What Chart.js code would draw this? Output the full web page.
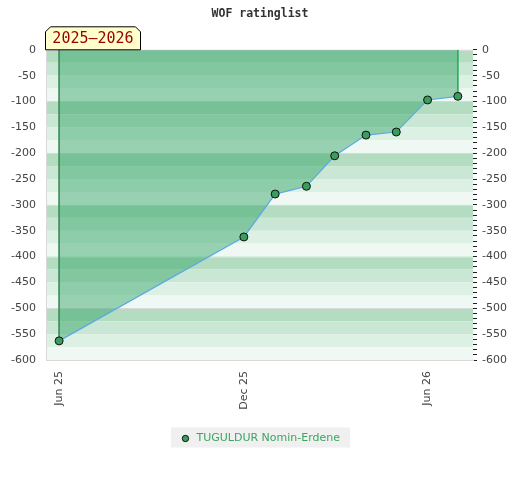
<!DOCTYPE html>
<html>
<head>
<meta charset="utf-8">
<script src="https://cdn.jsdelivr.net/npm/chart.js@4"></script>
<style>
  body { margin: 0; background: #fff; }
  #wrap { width: 520px; height: 480px; }
</style>
</head>
<body>
<div id="wrap"><canvas id="ratingChart" width="520" height="480"></canvas></div>
<script>
// Rating list dates and ratings
const ratingDates = ['2025-06-01', '2025-12-01', '2026-01-01', '2026-02-01', '2026-03-01', '2026-04-01', '2026-05-01', '2026-06-01', '2026-07-01'];
const ratingValues = [-563, -362, -279, -264, -205, -165, -159, -97, -90];
const tickDates = ['2025-06-01', '2025-12-01', '2026-06-01'];
const tickLabels = ['Jun 25', 'Dec 25', 'Jun 26'];
const axisRange = ['2025-05-19', '2026-07-16'];
const playerName = 'TUGULDUR Nomin-Erdene';
const seasonLabel = '2025\u20132026';

// days since the first list, so a linear scale can stand in for a time axis
const day0 = Date.parse(ratingDates[0]);
const toDay = d => (Date.parse(d) - day0) / 86400000;

const points = ratingDates.map((d, i) => ({ x: toDay(d), y: ratingValues[i] }));
const first = points[0];
const last = points[points.length - 1];

const bandColors = ['#b3dcc1', '#c9e7d4', '#ddf0e4', '#eff8f2'];

// striped background behind the plot
const bandsPlugin = {
    id: 'bands',
    beforeDatasetsDraw(chart) {
        const { ctx, chartArea, scales } = chart;
        const y = scales.y;
        ctx.save();
        let i = 0;
        for (let v = y.max; v > y.min; v -= 25) {
            const top = y.getPixelForValue(v);
            const bottom = y.getPixelForValue(v - 25);
            ctx.fillStyle = bandColors[i % 4];
            ctx.fillRect(chartArea.left, top, chartArea.right - chartArea.left, bottom - top);
            i++;
        }
        // faint lines every 100
        ctx.strokeStyle = '#d9d9d9';
        ctx.lineWidth = 1;
        for (let v = y.max; v >= y.min; v -= 100) {
            const py = Math.round(y.getPixelForValue(v)) + 0.5;
            ctx.beginPath();
            ctx.moveTo(chartArea.left, py);
            ctx.lineTo(chartArea.right, py);
            ctx.stroke();
        }
        ctx.beginPath();
        ctx.moveTo(chartArea.left + 0.5, chartArea.top);
        ctx.lineTo(chartArea.left + 0.5, chartArea.bottom);
        ctx.stroke();
        ctx.restore();
    }
};

// grey box behind the legend item
const legendBoxPlugin = {
    id: 'legendBox',
    afterDraw(chart) {
        const legend = chart.legend;
        if (!legend || !legend.legendHitBoxes.length) return;
        const hb = legend.legendHitBoxes[0];
        const { ctx } = chart;
        const cy = hb.top + hb.height / 2;
        ctx.save();
        ctx.globalCompositeOperation = 'destination-over';
        ctx.fillStyle = '#f0f0f0';
        ctx.fillRect(hb.left - 9, cy - 11, hb.width + 19, 20);
        ctx.restore();
    }
};

// season tag sitting on the top-left corner of the plot
const seasonTagPlugin = {
    id: 'seasonTag',
    afterDraw(chart) {
        const { ctx, chartArea } = chart;
        const l = chartArea.left - 0.5, b = chartArea.top, w = 95, h = 23, c = 5;
        ctx.save();
        ctx.beginPath();
        ctx.moveTo(l, b);
        ctx.lineTo(l, b - h + c);
        ctx.lineTo(l + c, b - h);
        ctx.lineTo(l + w - c, b - h);
        ctx.lineTo(l + w, b - h + c);
        ctx.lineTo(l + w, b);
        ctx.closePath();
        ctx.fillStyle = '#ffffcc';
        ctx.fill();
        ctx.strokeStyle = '#000';
        ctx.lineWidth = 1;
        ctx.stroke();
        ctx.fillStyle = '#990000';
        ctx.font = '15px "DejaVu Sans Mono"';
        ctx.textAlign = 'center';
        ctx.textBaseline = 'middle';
        ctx.fillText(seasonLabel, l + w / 2, b - h / 2 + 1);
        ctx.restore();
    }
};

const ctx = document.getElementById('ratingChart').getContext('2d');
new Chart(ctx, {
    type: 'line',
    data: {
        datasets: [{
            label: playerName,
            data: points,
            borderColor: '#5aa9e6',
            borderWidth: 1.2,
            backgroundColor: 'rgba(40, 160, 95, 0.44)',
            fill: 'end',
            pointRadius: 4,
            pointBackgroundColor: '#3a9d5d',
            pointBorderColor: '#111',
            pointBorderWidth: 1,
            tension: 0,
            order: 1
        }, {
            label: 'start',
            data: [{ x: first.x, y: 0 }, { x: first.x, y: first.y }],
            borderColor: '#3f8f5a',
            borderWidth: 1,
            pointRadius: 0,
            fill: false,
            order: 2
        }, {
            label: 'end',
            data: [{ x: last.x, y: 0 }, { x: last.x, y: last.y }],
            borderColor: '#30b060',
            borderWidth: 1,
            pointRadius: 0,
            fill: false,
            order: 2
        }]
    },
    options: {
        responsive: false,
        animation: false,
        layout: { padding: { bottom: 26 } },
        plugins: {
            title: {
                display: true,
                text: 'WOF ratinglist',
                color: '#333',
                font: { family: '"DejaVu Sans Mono"', size: 11.5, weight: 'bold' },
                padding: { top: 7, bottom: 29 }
            },
            legend: {
                position: 'bottom',
                labels: {
                    filter: item => item.datasetIndex === 0,
                    usePointStyle: true,
                    pointStyle: 'circle',
                    boxWidth: 11,
                    boxHeight: 4.5,
                    color: '#3aa660',
                    font: { family: '"DejaVu Sans"', size: 11 },
                    padding: 12
                }
            },
            tooltip: { enabled: false }
        },
        scales: {
            x: {
                type: 'linear',
                min: toDay(axisRange[0]),
                max: toDay(axisRange[1]),
                afterBuildTicks: axis => { axis.ticks = tickDates.map(d => ({ value: toDay(d) })); },
                afterFit: axis => { axis.height = 61; },
                grid: { display: false, drawTicks: false },
                border: { display: true, color: '#d9d9d9' },
                ticks: {
                    autoSkip: false,
                    minRotation: 90,
                    maxRotation: 90,
                    padding: 11,
                    color: '#444',
                    font: { family: '"DejaVu Sans"', size: 11 },
                    callback: v => {
                        const i = tickDates.findIndex(d => toDay(d) === v);
                        return i >= 0 ? tickLabels[i] : '';
                    }
                }
            },
            y: {
                position: 'left',
                min: -600,
                max: 0,
                afterFit: axis => { axis.width = 46; },
                grid: { display: false, drawTicks: false },
                border: { display: false },
                ticks: {
                    stepSize: 50,
                    padding: 10,
                    color: '#444',
                    font: { family: '"DejaVu Sans"', size: 11 }
                }
            },
            y2: {
                position: 'right',
                min: -600,
                max: 0,
                afterFit: axis => { axis.width = 47; },
                grid: {
                    drawOnChartArea: false,
                    tickLength: 4,
                    tickColor: '#222',
                    tickWidth: 1
                },
                border: { display: false },
                ticks: {
                    stepSize: 10,
                    autoSkip: false,
                    padding: 5,
                    color: '#444',
                    font: { family: '"DejaVu Sans"', size: 11 },
                    callback: v => (v % 50 === 0 ? v : '')
                }
            }
        }
    },
    plugins: [bandsPlugin, legendBoxPlugin, seasonTagPlugin]
});
</script>
</body>
</html>
